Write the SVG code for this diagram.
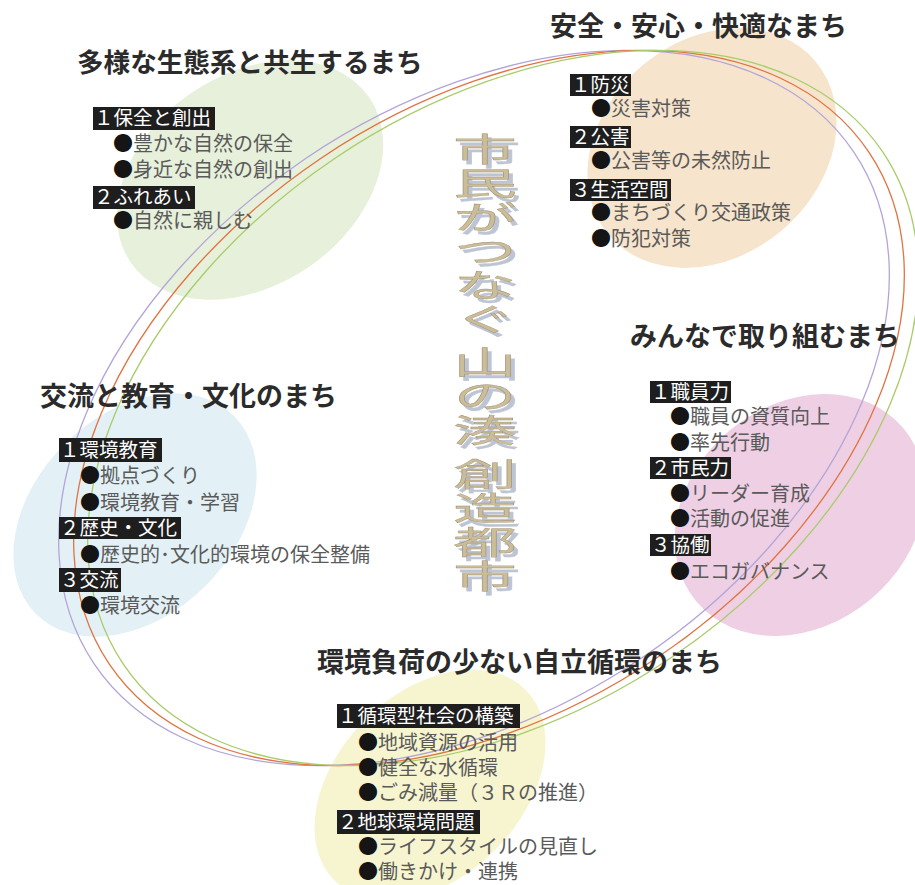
<svg xmlns="http://www.w3.org/2000/svg" width="915" height="885" viewBox="0 0 915 885">
<style>
.title{font-family:"Noto Sans CJK JP","Noto Sans CJK SC",sans-serif;font-weight:700;font-size:27px;fill:#2b2b2b}
.hd{fill:#1e1e1e}
.hdt{font-family:"Noto Sans CJK JP","Noto Sans CJK SC",sans-serif;font-size:19.5px;fill:#ffffff}
.bl{font-family:"Noto Sans CJK JP","Noto Sans CJK SC",sans-serif;font-size:20px;fill:#5a5a5a}
.dot{fill:#151515}
.ring{fill:none;stroke-width:1.3}
.ct{font-family:"Noto Sans CJK JP","Noto Sans CJK SC",sans-serif;font-size:64px;writing-mode:vertical-rl;letter-spacing:4px;fill:#cbbd98;stroke:#9e9072;stroke-width:0.7}
</style>
<defs>
<filter id="sh" x="-20%" y="-5%" width="140%" height="110%">
<feDropShadow dx="4" dy="4" stdDeviation="0.4" flood-color="#bdc4d3" flood-opacity="1"/>
</filter>
</defs>
<rect width="915" height="885" fill="#ffffff"/>
<g id="blobs">
<ellipse cx="250" cy="180" rx="145" ry="105" transform="rotate(-35 250 180)" fill="#e7f0da"/>
<ellipse cx="712" cy="148" rx="135" ry="108" transform="rotate(-40 712 148)" fill="#f6e4cc"/>
<ellipse cx="135" cy="515" rx="140" ry="100" transform="rotate(-45 135 515)" fill="#e3f1f6"/>
<ellipse cx="800" cy="515" rx="135" ry="110" transform="rotate(-40 800 515)" fill="#efcfe4"/>
<ellipse cx="430" cy="785" rx="135" ry="92" transform="rotate(-45 430 785)" fill="#f7f5cf"/>
</g>
<g id="rings">
<ellipse class="ring" cx="474" cy="408" rx="458" ry="301" transform="rotate(-34 474 408)" stroke="#b3a4d8"/>
<ellipse class="ring" cx="489" cy="408" rx="458" ry="301" transform="rotate(-34 489 408)" stroke="#e0733f"/>
<ellipse class="ring" cx="503" cy="408" rx="458" ry="301" transform="rotate(-34 503 408)" stroke="#a8cc68"/>
</g>
<g id="center-title" filter="url(#sh)">
<g transform="scale(1,0.5)">
<text class="ct" x="485" y="266">市民がつなぐ</text>
<text class="ct" x="485" y="692">山の湊</text>
<text class="ct" x="485" y="916">創造都市</text>
</g>
</g>
<g id="theme-ecosystem">
<text class="title" x="77" y="72" style="font-size:26.6px">多様な生態系と共生するまち</text>
<rect class="hd" x="93" y="107" width="122" height="23"/><text class="hdt" x="94" y="125">１保全と創出</text>
<text class="bl" x="113" y="151"><tspan class="dot">●</tspan>豊かな自然の保全</text>
<text class="bl" x="113" y="177"><tspan class="dot">●</tspan>身近な自然の創出</text>
<rect class="hd" x="93" y="186" width="102" height="23"/><text class="hdt" x="94" y="204">２ふれあい</text>
<text class="bl" x="113" y="228"><tspan class="dot">●</tspan>自然に親しむ</text>
</g>
<g id="theme-safety">
<text class="title" x="550" y="36">安全・安心・快適なまち</text>
<rect class="hd" x="570" y="74" width="61" height="22"/><text class="hdt" x="571" y="92">１防災</text>
<text class="bl" x="591" y="116"><tspan class="dot">●</tspan>災害対策</text>
<rect class="hd" x="570" y="126" width="61" height="22"/><text class="hdt" x="571" y="144">２公害</text>
<text class="bl" x="591" y="168"><tspan class="dot">●</tspan>公害等の未然防止</text>
<rect class="hd" x="570" y="179" width="101" height="22"/><text class="hdt" x="571" y="197">３生活空間</text>
<text class="bl" x="591" y="220"><tspan class="dot">●</tspan>まちづくり交通政策</text>
<text class="bl" x="591" y="246"><tspan class="dot">●</tspan>防犯対策</text>
</g>
<g id="theme-education">
<text class="title" x="40" y="406">交流と教育・文化のまち</text>
<rect class="hd" x="59" y="438" width="103" height="24"/><text class="hdt" x="60" y="457">１環境教育</text>
<text class="bl" x="80" y="483"><tspan class="dot">●</tspan>拠点づくり</text>
<text class="bl" x="80" y="510"><tspan class="dot">●</tspan>環境教育・学習</text>
<rect class="hd" x="59" y="517" width="122" height="22"/><text class="hdt" x="60" y="535">２歴史・文化</text>
<text class="bl" x="80" y="562"><tspan class="dot">●</tspan>歴史的･文化的環境の保全整備</text>
<rect class="hd" x="59" y="568" width="62" height="24"/><text class="hdt" x="60" y="587">３交流</text>
<text class="bl" x="80" y="613"><tspan class="dot">●</tspan>環境交流</text>
</g>
<g id="theme-collaboration">
<text class="title" x="630" y="346">みんなで取り組むまち</text>
<rect class="hd" x="650" y="381" width="81" height="22"/><text class="hdt" x="651" y="399">１職員力</text>
<text class="bl" x="670" y="424"><tspan class="dot">●</tspan>職員の資質向上</text>
<text class="bl" x="670" y="450"><tspan class="dot">●</tspan>率先行動</text>
<rect class="hd" x="650" y="457" width="81" height="22"/><text class="hdt" x="651" y="475">２市民力</text>
<text class="bl" x="670" y="501"><tspan class="dot">●</tspan>リーダー育成</text>
<text class="bl" x="670" y="526"><tspan class="dot">●</tspan>活動の促進</text>
<rect class="hd" x="650" y="534" width="61" height="22"/><text class="hdt" x="651" y="552">３協働</text>
<text class="bl" x="670" y="579"><tspan class="dot">●</tspan>エコガバナンス</text>
</g>
<g id="theme-circulation">
<text class="title" x="317" y="672">環境負荷の少ない自立循環のまち</text>
<rect class="hd" x="337" y="704" width="183" height="24"/><text class="hdt" x="338" y="723">１循環型社会の構築</text>
<text class="bl" x="358" y="750"><tspan class="dot">●</tspan>地域資源の活用</text>
<text class="bl" x="358" y="775"><tspan class="dot">●</tspan>健全な水循環</text>
<text class="bl" x="358" y="800"><tspan class="dot">●</tspan>ごみ減量（３Ｒの推進）</text>
<rect class="hd" x="337" y="810" width="143" height="24"/><text class="hdt" x="338" y="829">２地球環境問題</text>
<text class="bl" x="358" y="854"><tspan class="dot">●</tspan>ライフスタイルの見直し</text>
<text class="bl" x="358" y="879"><tspan class="dot">●</tspan>働きかけ・連携</text>
</g>
</svg>
